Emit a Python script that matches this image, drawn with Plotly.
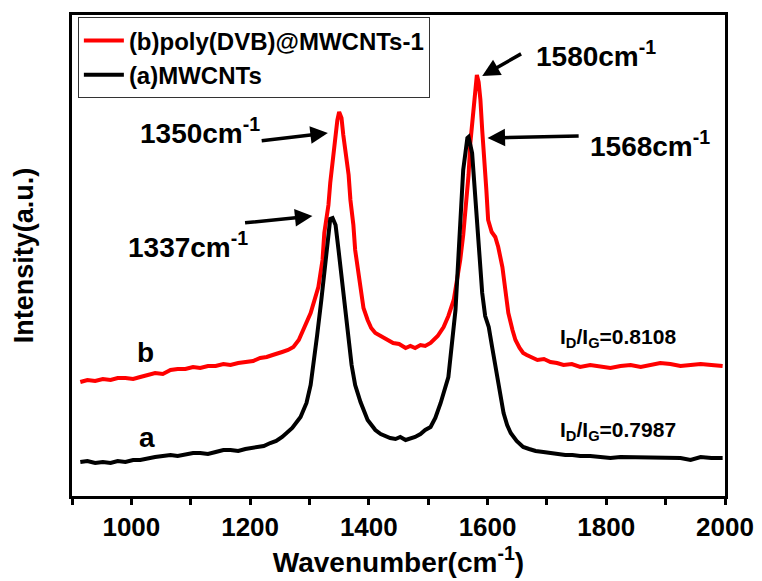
import plotly.graph_objects as go

# (a) MWCNTs  - black
wn_a = [914, 926, 939, 952, 965, 977, 990, 1003, 1015, 1028, 1040, 1053, 1066, 1078, 1091, 1104,
        1116, 1129, 1142, 1155, 1167, 1180, 1192, 1202, 1212, 1223, 1234, 1244, 1254,
        1271, 1285, 1295, 1302, 1308, 1313, 1320, 1325, 1329, 1332, 1335, 1339, 1344, 1349,
        1354, 1361, 1366, 1371, 1377, 1386, 1398, 1411, 1420, 1428, 1436, 1445, 1453, 1462, 1470,
        1478, 1487, 1495, 1504, 1512,
        1521, 1534, 1546, 1554, 1559, 1566, 1568, 1574, 1578, 1582, 1586, 1591, 1596, 1602,
        1608, 1616, 1622, 1627, 1633, 1639, 1649, 1660, 1670, 1681, 1694, 1706, 1718, 1731, 1743,
        1756, 1773, 1790, 1807, 1824, 1841, 1858, 1875, 1891, 1908, 1925, 1942, 1959, 1977, 1996]
int_a = [34, 35, 33, 34, 33, 35, 34, 36, 36, 38, 39, 40, 41, 40, 42, 43,
         43, 42, 44, 46, 46, 45, 47, 48, 48, 50, 53, 55, 59,
         68, 79, 93, 111, 136, 161, 196, 226, 246, 264, 277, 278, 271, 246,
         221, 178, 156, 131, 111, 94, 76, 66, 62, 60, 58, 57, 59, 56, 57,
         59, 62, 66, 69, 78,
         93, 119, 186, 269, 326, 358, 359, 343, 310, 269, 235, 203, 180, 169,
         148, 119, 100, 83, 71, 63, 55, 49, 47, 45, 44, 43, 42, 41, 41,
         40, 40, 39, 38, 39, 39, 38, 39, 38, 39, 38, 36, 39, 38, 38]

# (b) poly(DVB)@MWCNTs-1 - red
wn_b = [914, 926, 939, 952, 965, 977, 990, 1003, 1015, 1028, 1040, 1053, 1066, 1078, 1091, 1104,
        1116, 1129, 1142, 1155, 1167, 1180, 1192, 1205, 1217, 1228, 1238, 1246, 1254, 1264,
        1273, 1282, 1290, 1302, 1315, 1322, 1325, 1332, 1335, 1340, 1344, 1347, 1350, 1354, 1357,
        1361, 1366, 1369, 1374, 1377, 1382, 1386, 1391, 1398, 1404, 1411, 1420, 1428, 1434, 1441,
        1451, 1462, 1470, 1478, 1487, 1495, 1504, 1516, 1526, 1534, 1543, 1549, 1554, 1559, 1563,
        1568, 1571, 1576, 1580, 1582, 1585, 1588, 1591, 1595, 1598, 1601, 1607, 1613, 1618, 1625,
        1630, 1635, 1642, 1647, 1654, 1660, 1666, 1672, 1684, 1695, 1706, 1717, 1728, 1742, 1756,
        1773, 1790, 1807, 1824, 1841, 1858, 1875, 1891, 1908, 1925, 1942, 1959, 1977, 1996]
int_b = [114, 116, 115, 117, 116, 118, 118, 117, 119, 121, 123, 122, 126, 127, 127, 129,
         128, 130, 130, 132, 131, 133, 134, 135, 138, 139, 141, 143, 144, 146,
         149, 156, 166, 183, 209, 236, 263, 291, 313, 341, 363, 376, 384, 378, 361,
         346, 321, 296, 271, 246, 224, 203, 188, 176, 168, 163, 160, 158, 155, 153,
         152, 148, 150, 148, 151, 150, 153, 160, 169, 180, 196, 216, 236, 261, 286,
         321, 353, 386, 416, 421, 414, 396, 366, 336, 306, 276, 264, 259, 249, 229,
         206, 183, 166, 156, 148, 143, 141, 139, 136, 137, 134, 133, 131, 132, 129,
         131, 130, 128, 130, 131, 129, 131, 133, 132, 130, 131, 132, 131, 130]

x_ticks = [900, 1000, 1100, 1200, 1300, 1400, 1500, 1600, 1700, 1800, 1900, 2000]
x_labels = ["", "1000", "", "1200", "", "1400", "", "1600", "", "1800", "", "2000"]

FONT = "Liberation Sans, Arial, sans-serif"

fig = go.Figure()
fig.add_trace(go.Scatter(x=wn_b, y=int_b, mode="lines", name="<b>(b)poly(DVB)@MWCNTs-1</b>",
                         line=dict(color="#ff0000", width=4)))
fig.add_trace(go.Scatter(x=wn_a, y=int_a, mode="lines", name="<b>(a)MWCNTs</b>",
                         line=dict(color="#000000", width=4)))

arrows = [
    (1217, 355, 1331, 363),
    (1189, 273, 1305, 280),
    (1659, 443, 1591, 420),
    (1756, 360, 1600, 358),
]
for tx, ty, hx, hy in arrows:
    fig.add_annotation(x=hx, y=hy, ax=tx, ay=ty, xref="x", yref="y", axref="x", ayref="y",
                       text="", showarrow=True, arrowhead=2, arrowsize=1, arrowwidth=3.5,
                       arrowcolor="#000000")

labels = [
    (1116, 365, "<b>1350cm<sup>-1</sup></b>", 28),
    (1096, 251, "<b>1337cm<sup>-1</sup></b>", 28),
    (1782, 442, "<b>1580cm<sup>-1</sup></b>", 28),
    (1874, 352, "<b>1568cm<sup>-1</sup></b>", 28),
    (1024, 144, "<b>b</b>", 28),
    (1026, 59, "<b>a</b>", 28),
    (1820, 158, "<b>I<sub>D</sub>/I<sub>G</sub>=0.8108</b>", 21),
    (1820, 65, "<b>I<sub>D</sub>/I<sub>G</sub>=0.7987</b>", 21),
]
for x, y, t, s in labels:
    fig.add_annotation(x=x, y=y, xref="x", yref="y", text=t, showarrow=False,
                       font=dict(family=FONT, size=s, color="#000000"))

fig.update_xaxes(range=[900, 2000], tickvals=x_ticks, ticktext=[f"<b>{v}</b>" if v else "" for v in x_labels],
                 ticks="outside", ticklen=6, tickwidth=3, tickcolor="#000",
                 showline=True, linewidth=3, linecolor="#000", mirror=True,
                 showgrid=False, zeroline=False, automargin=False,
                 tickfont=dict(family=FONT, size=26, color="#000"),
                 title=dict(text="<b>Wavenumber(cm<sup>-1</sup>)</b>", standoff=6,
                            font=dict(family=FONT, size=28, color="#000")))
fig.update_yaxes(range=[0, 481], showticklabels=False, ticks="",
                 showline=True, linewidth=3, linecolor="#000", mirror=True,
                 showgrid=False, zeroline=False, automargin=False,
                 title=dict(text="<b>Intensity(a.u.)</b>", standoff=28,
                            font=dict(family=FONT, size=27, color="#000")))

fig.update_layout(
    width=754, height=573,
    margin=dict(l=64, r=37, t=7, b=85),
    plot_bgcolor="white", paper_bgcolor="white",
    showlegend=True,
    legend=dict(x=0.009, y=0.995, xanchor="left", yanchor="top",
                bgcolor="white", bordercolor="#333", borderwidth=1,
                font=dict(family=FONT, size=24, color="#000"),
                tracegroupgap=0, itemwidth=40),
)

fig.write_html("out.html")
